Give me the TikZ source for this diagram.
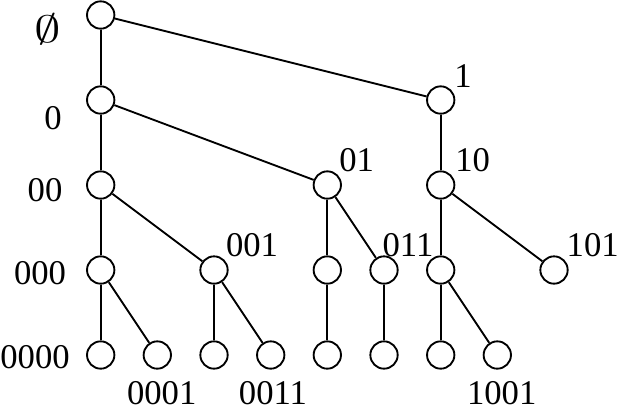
\documentclass[tikz,border=0pt]{standalone}
\usepackage{fontspec}
\setmainfont{Liberation Serif}
\usepackage{tikz}

\tikzset{
  trie/.style={circle, draw, line width=1.4pt, minimum size=20.5pt, inner sep=0pt},
  lbl/.style={inner sep=0.75pt, font=\fontsize{26}{30}\selectfont}
}

\begin{document}
\begin{tikzpicture}[x=0.75pt,y=0.75pt,yscale=-1,xscale=1]
    \useasboundingbox (0,0) rectangle (623,412);

    % Trie nodes
    \node [trie] (r) at (100.7,15) {};
    \node [trie] (n0) at (100.7,100) {};
    \node [trie] (n1) at (440.7,100) {};
    \node [trie] (n00) at (100.7,185) {};
    \node [trie] (n01) at (327.3,185) {};
    \node [trie] (n10) at (440.7,185) {};
    \node [trie] (n000) at (100.7,270) {};
    \node [trie] (n001) at (214,270) {};
    \node [trie] (n010) at (327.3,270) {};
    \node [trie] (n011) at (384,270) {};
    \node [trie] (n100) at (440.7,270) {};
    \node [trie] (n101) at (554,270) {};
    \node [trie] (n0000) at (100.7,355) {};
    \node [trie] (n0001) at (157.3,355) {};
    \node [trie] (n0010) at (214,355) {};
    \node [trie] (n0011) at (270.7,355) {};
    \node [trie] (n0100) at (327.3,355) {};
    \node [trie] (n0110) at (384,355) {};
    \node [trie] (n1000) at (440.7,355) {};
    \node [trie] (n1001) at (497.3,355) {};

    % Edges
    \draw [line width=1.4pt] (r) -- (n0);
    \draw [line width=1.4pt] (r) -- (n1);
    \draw [line width=1.4pt] (n0) -- (n00);
    \draw [line width=1.4pt] (n0) -- (n01);
    \draw [line width=1.4pt] (n1) -- (n10);
    \draw [line width=1.4pt] (n00) -- (n000);
    \draw [line width=1.4pt] (n00) -- (n001);
    \draw [line width=1.4pt] (n01) -- (n010);
    \draw [line width=1.4pt] (n01) -- (n011);
    \draw [line width=1.4pt] (n10) -- (n100);
    \draw [line width=1.4pt] (n10) -- (n101);
    \draw [line width=1.4pt] (n000) -- (n0000);
    \draw [line width=1.4pt] (n000) -- (n0001);
    \draw [line width=1.4pt] (n001) -- (n0010);
    \draw [line width=1.4pt] (n001) -- (n0011);
    \draw [line width=1.4pt] (n010) -- (n0100);
    \draw [line width=1.4pt] (n011) -- (n0110);
    \draw [line width=1.4pt] (n100) -- (n1000);
    \draw [line width=1.4pt] (n100) -- (n1001);

    % Text Nodes
    \node [lbl, inner sep=0pt] (tr) at (48,29) {\scalebox{1.6}[1.15]{$\emptyset$}};
    \node [lbl] (t0) at (53,118) {0};
    \node [lbl] (t00) at (45,190) {00};
    \node [lbl] (t000) at (40,273) {000};
    \node [lbl] (t0000) at (35,357) {0000};
    \node [lbl] (t1) at (463,76) {1};
    \node [lbl] (t01) at (356.7,160) {01};
    \node [lbl] (t10) at (472.7,160) {10};
    \node [lbl] (t001) at (252,245) {001};
    \node [lbl] (t011) at (408,245) {011};
    \node [lbl] (t101) at (592.7,245) {101};
    \node [lbl] (t0001) at (161.7,393) {0001};
    \node [lbl] (t0011) at (273,393) {0011};
    \node [lbl] (t1001) at (501.7,393) {1001};
\end{tikzpicture}
\end{document}
